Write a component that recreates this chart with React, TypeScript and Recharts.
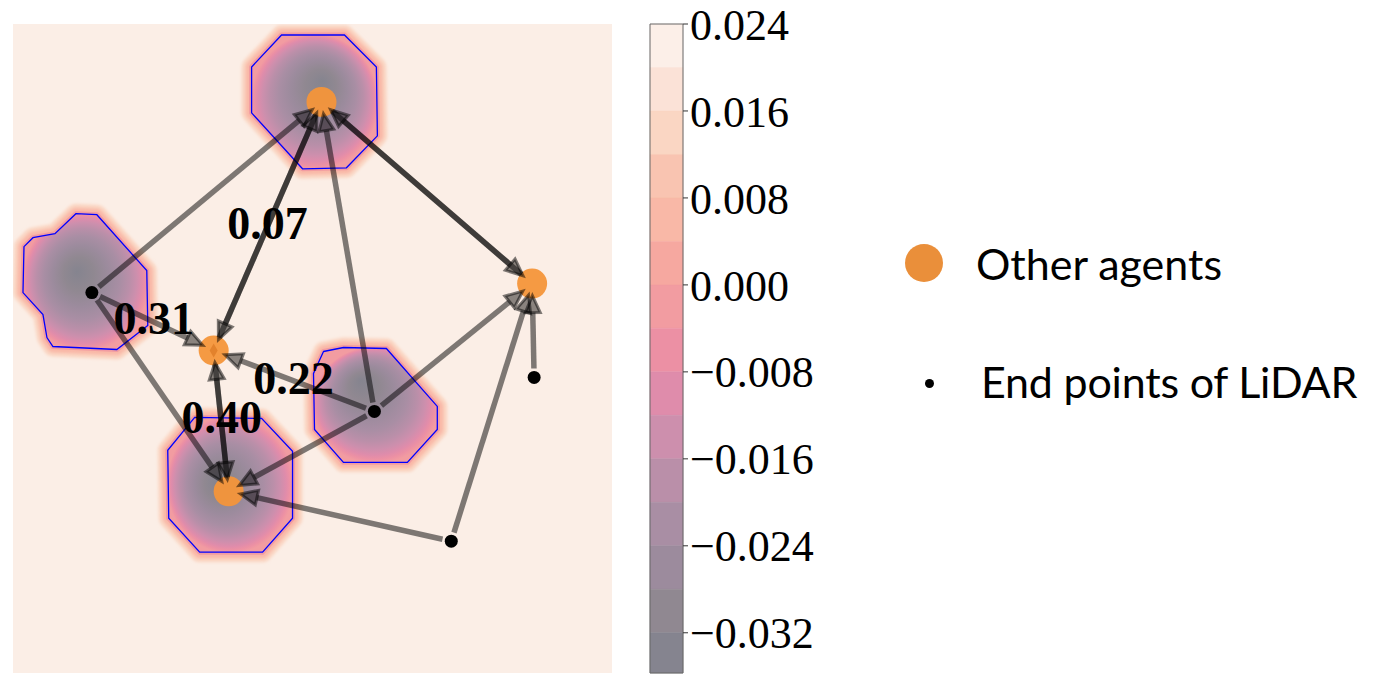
import React from 'react'
import { ScatterChart, Scatter, XAxis, YAxis, CartesianGrid, ReferenceArea } from 'recharts'

// positions in metres, robot-centred frame
const agents = [
  { id: 'A1', x: 0.09, y: 2.47 },
  { id: 'A2', x: 2.2, y: 0.65 },
  { id: 'A3', x: -0.99, y: -0.02 },
  { id: 'A4', x: -0.84, y: -1.43 },
]

const egoMarker = [{ x: -0.99, y: -0.02 }]

const lidarPoints = [
  { id: 'P1', x: -2.21, y: 0.56 },
  { id: 'P2', x: 0.62, y: -0.63 },
  { id: 'P3', x: 2.22, y: -0.29 },
  { id: 'P4', x: 1.39, y: -1.93 },
]

// attention edges, source -> target
const edges = [
  ['P1', 'A1'], ['P1', 'A3'], ['P1', 'A4'],
  ['P2', 'A1'], ['P2', 'A3'], ['P2', 'A2'], ['P2', 'A4'],
  ['P3', 'A2'],
  ['P4', 'A2'], ['P4', 'A4'],
  ['A3', 'A1'], ['A1', 'A3'],
  ['A1', 'A2'], ['A2', 'A1'],
  ['A3', 'A4'], ['A4', 'A3'],
]

const edgeLabels = [
  { x: -0.45, y: 1.25, text: '0.07' },
  { x: -1.59, y: 0.3, text: '0.31' },
  { x: -0.19, y: -0.3, text: '0.22' },
  { x: -0.91, y: -0.69, text: '0.40' },
]

// zero-level contour of each potential well, plus its minimum
const wellTop = [
  { x: -0.31, y: 3.14 }, { x: 0.32, y: 3.14 }, { x: 0.64, y: 2.82 }, { x: 0.65, y: 2.13 },
  { x: 0.34, y: 1.81 }, { x: -0.1, y: 1.8 }, { x: -0.61, y: 2.36 }, { x: -0.61, y: 2.82 },
]
const wellLeft = [
  { x: -2.37, y: 1.35 }, { x: -2.16, y: 1.34 }, { x: -1.66, y: 0.78 }, { x: -1.65, y: 0.23 },
  { x: -1.96, y: -0.01 }, { x: -2.6, y: 0.02 }, { x: -2.66, y: 0.11 }, { x: -2.7, y: 0.34 },
  { x: -2.9, y: 0.56 }, { x: -2.89, y: 1.02 }, { x: -2.8, y: 1.11 }, { x: -2.58, y: 1.15 },
]
const wellMid = [
  { x: 0.11, y: -0.03 }, { x: 0.31, y: 0.01 }, { x: 0.74, y: 0.0 }, { x: 1.25, y: -0.58 },
  { x: 1.25, y: -0.81 }, { x: 0.95, y: -1.14 }, { x: 0.31, y: -1.14 }, { x: 0.02, y: -0.81 },
  { x: 0.01, y: -0.25 },
]
const wellBottom = [
  { x: -1.18, y: -0.69 }, { x: -0.51, y: -0.7 }, { x: -0.2, y: -1.03 }, { x: -0.2, y: -1.7 },
  { x: -0.5, y: -2.04 }, { x: -1.13, y: -2.04 }, { x: -1.44, y: -1.7 }, { x: -1.45, y: -1.02 },
]
const wells = [
  { id: 'top', pts: wellTop, min: { x: 0.1, y: 2.68 } },
  { id: 'left', pts: wellLeft, min: { x: -2.36, y: 0.77 } },
  { id: 'mid', pts: wellMid, min: { x: 0.48, y: -0.32 } },
  { id: 'bottom', pts: wellBottom, min: { x: -0.96, y: -1.35 } },
]

// colour bar
const cbEdges = [0.024, 0.02, 0.016, 0.012, 0.008, 0.004, 0, -0.004, -0.008, -0.012, -0.016, -0.02, -0.024, -0.028, -0.032, -0.0357]
const cbColors = [
  '#fcefe8', '#fbe2d7', '#fad6c3', '#f9c4b1', '#f9b8a7', '#f6a8a0', '#f29ca1', '#ec90a4',
  '#df8cab', '#cd8fad', '#ba8fa9', '#a98ea4', '#9c8b9d', '#908891', '#85848f',
]
const cbTicks = [0.024, 0.016, 0.008, 0, -0.008, -0.016, -0.024, -0.032]

const legendItems = ['Other agents', 'End points of LiDAR']

const BG = '#fbeee6'
const AGENT = '#f4953a'
const serif = 'Liberation Serif, Times New Roman, serif'

const noMarker = () => <g />

const findNode = (id: string) => agents.find((a) => a.id === id) || lidarPoints.find((p) => p.id === id)!

// filled contour bands of one well: soft rim outside the zero line, shaded interior
const wellLine = (w: (typeof wells)[number]) => (props: any) => {
  const pts = props.points || []
  if (pts.length < 3) return <g />
  const d = pts.map((p: any, i: number) => `${i ? 'L' : 'M'}${p.x},${p.y}`).join(' ') + ' Z'
  const xs = w.pts.map((p) => p.x)
  const ys = w.pts.map((p) => p.y)
  const minX = Math.min(...xs), maxX = Math.max(...xs)
  const minY = Math.min(...ys), maxY = Math.max(...ys)
  const fx = (w.min.x - minX) / (maxX - minX)
  const fy = (maxY - w.min.y) / (maxY - minY)
  const inner = cbColors.slice(6).reverse()
  const offs = [0, 0.24, 0.44, 0.6, 0.73, 0.83, 0.9, 0.95, 1]
  return (
    <g>
      <defs>
        <radialGradient id={`well-${w.id}`} cx={0.5} cy={0.5} fx={fx} fy={fy} r={0.51}>
          {inner.map((c, i) => (
            <stop key={i} offset={offs[i]} stopColor={c} />
          ))}
        </radialGradient>
        <filter id={`halo-${w.id}`} x="-30%" y="-30%" width="160%" height="160%">
          <feGaussianBlur stdDeviation={1.8} />
        </filter>
      </defs>
      <path d={d} fill={cbColors[2]} stroke={cbColors[2]} strokeWidth={20} strokeLinejoin="round" filter={`url(#halo-${w.id})`} />
      <path d={d} fill={cbColors[4]} stroke={cbColors[4]} strokeWidth={12} strokeLinejoin="round" filter={`url(#halo-${w.id})`} />
      <path d={d} fill={cbColors[6]} stroke={cbColors[6]} strokeWidth={5} strokeLinejoin="round" />
      <path d={d} fill={`url(#well-${w.id})`} />
      <path d={d} fill="none" stroke="#0000ff" strokeWidth={1.3} />
    </g>
  )
}

const arrowLine = (fromAgent: boolean) => (props: any) => {
  const pts = props.points || []
  if (pts.length < 2) return <g />
  const [a, b] = pts
  const len = Math.hypot(b.x - a.x, b.y - a.y)
  const ux = (b.x - a.x) / len
  const uy = (b.y - a.y) / len
  const startGap = fromAgent ? 14 : 9
  const sx = a.x + ux * startGap
  const sy = a.y + uy * startGap
  const tx = b.x - ux * 12
  const ty = b.y - uy * 12
  const bx = tx - ux * 17
  const by = ty - uy * 17
  const hw = 7.5
  const head = `M${tx},${ty} L${bx - uy * hw},${by + ux * hw} L${bx + uy * hw},${by - ux * hw} Z`
  return (
    <g>
      <line x1={sx} y1={sy} x2={bx} y2={by} stroke="#000" strokeOpacity={0.5} strokeWidth={5.5} />
      <path d={head} fill="#000" fillOpacity={0.45} stroke="#000" strokeOpacity={0.5} strokeWidth={3} />
    </g>
  )
}

const AgentDot = (props: any) => <circle cx={props.cx} cy={props.cy} r={15} fill={AGENT} fillOpacity={0.95} />
const EgoDiamond = (props: any) => (
  <path d={`M${props.cx},${props.cy - 7} L${props.cx + 4},${props.cy} L${props.cx},${props.cy + 7} L${props.cx - 4},${props.cy} Z`} fill="#e3822c" />
)
const LidarDot = (props: any) => <circle cx={props.cx} cy={props.cy} r={6.5} fill="#000" />
const WeightLabel = (props: any) => (
  <text x={props.cx} y={props.cy} textAnchor="middle" dominantBaseline="central" fontFamily={serif} fontWeight="bold" fontSize={46} fill="#000">
    {props.payload.text}
  </text>
)

const fmtTick = (v: number) => (v < 0 ? '\u2212' : '') + Math.abs(v).toFixed(3)

export default function App() {
  return (
    <div style={{ position: 'absolute', left: 0, top: 0, width: 1381, height: 675, background: '#fff', overflow: 'hidden' }}>
      <div style={{ position: 'absolute', left: 0, top: 0 }}>
        <ScatterChart width={620} height={675} margin={{ top: 24, left: 13, right: 8, bottom: 2 }}>
          <CartesianGrid fill={BG} horizontal={false} vertical={false} />
          <XAxis type="number" dataKey="x" domain={[-3, 3]} allowDataOverflow hide />
          <YAxis type="number" dataKey="y" domain={[-3.25, 3.25]} allowDataOverflow hide />
          {wells.map((w) => (
            <Scatter key={w.id} data={w.pts} line={wellLine(w)} shape={noMarker} isAnimationActive={false} legendType="none" />
          ))}
          <Scatter data={agents} shape={AgentDot} isAnimationActive={false} legendType="none" />
          <Scatter data={egoMarker} shape={EgoDiamond} isAnimationActive={false} legendType="none" />
          <Scatter data={lidarPoints} shape={LidarDot} isAnimationActive={false} legendType="none" />
          {edges.map(([s, t], i) => (
            <Scatter
              key={`e${i}`}
              data={[findNode(s), findNode(t)]}
              line={arrowLine(s.startsWith('A'))}
              shape={noMarker}
              isAnimationActive={false}
              legendType="none"
            />
          ))}
          <Scatter data={edgeLabels} shape={WeightLabel} isAnimationActive={false} legendType="none" />
        </ScatterChart>
      </div>

      <div style={{ position: 'absolute', left: 640, top: 0 }}>
        <ScatterChart width={240} height={675} margin={{ top: 24, left: 10, right: 0, bottom: 2 }}>
          <XAxis type="number" dataKey="x" domain={[0, 1]} allowDataOverflow hide />
          <YAxis
            type="number"
            dataKey="y"
            orientation="right"
            domain={[cbEdges[cbEdges.length - 1], cbEdges[0]]}
            allowDataOverflow
            ticks={cbTicks}
            interval={0}
            tickFormatter={fmtTick}
            width={197}
            axisLine={false}
            tickSize={5}
            tickLine={{ stroke: '#333' }}
            tick={{ fill: '#000', fontSize: 44, fontFamily: serif }}
          />
          {cbColors.map((c, i) => (
            <ReferenceArea key={i} x1={0} x2={1} y1={cbEdges[i + 1]} y2={cbEdges[i]} fill={c} fillOpacity={1} stroke={c} strokeWidth={0.5} ifOverflow="visible" />
          ))}
          <ReferenceArea x1={0} x2={1} y1={cbEdges[cbEdges.length - 1]} y2={cbEdges[0]} fill="none" stroke="#666" strokeWidth={1} ifOverflow="visible" />
        </ScatterChart>
      </div>

      <div style={{ position: 'absolute', left: 900, top: 238, fontFamily: 'Lato, sans-serif', fontSize: 43, color: '#000' }}>
        <div style={{ position: 'absolute', left: 5, top: 6, width: 38, height: 38, borderRadius: 19, background: '#ea8f3a' }} />
        <div style={{ position: 'absolute', left: 76, top: 0, whiteSpace: 'nowrap', lineHeight: '52px' }}>{legendItems[0]}</div>
        <div style={{ position: 'absolute', left: 25, top: 141, width: 9, height: 9, borderRadius: 5, background: '#000' }} />
        <div style={{ position: 'absolute', left: 81, top: 118, whiteSpace: 'nowrap', lineHeight: '52px', letterSpacing: -0.2 }}>{legendItems[1]}</div>
      </div>
    </div>
  )
}
